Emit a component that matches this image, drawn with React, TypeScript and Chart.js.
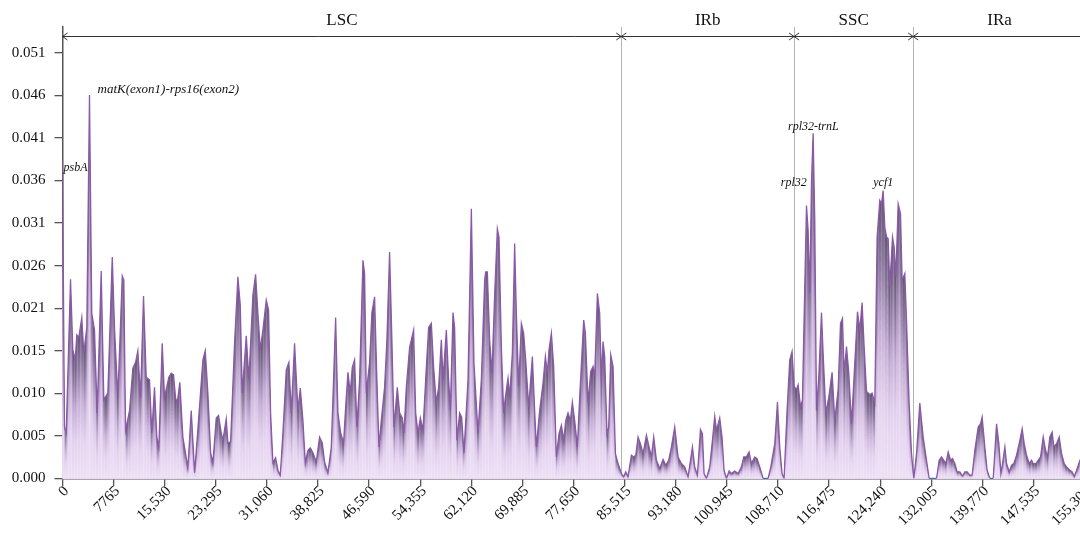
import React, { useEffect, useRef } from 'react';
import { Chart, registerables } from 'chart.js';

Chart.register(...registerables);

// ---------- data ----------
const POSITIONS = [
  0, 300, 560, 1220, 1570, 1930, 2170, 2480, 2930, 3240, 3690, 4100, 4450, 4860, 5270, 5880, 6280, 6890, 7560, 7900,
  8410, 9080, 9320, 9580, 10190, 10690, 11100, 11450, 11860, 12310, 12720, 13220, 13570, 13980, 14330, 14640, 15150, 15500, 16160, 16520,
  16870, 17180, 17430, 17830, 18290, 19050, 19560, 20070, 20670, 21330, 21690, 22090, 22500, 22850, 23360, 23710, 24120, 24370, 24880, 25130,
  25540, 26140, 26650, 27010, 27310, 27920, 28320, 28930, 29340, 29690, 30050, 30450, 30960, 31310, 31620, 31970, 32380, 32730, 33090, 33490,
  34000, 34400, 34760, 35260, 35770, 36130, 36530, 36890, 37290, 37650, 38050, 38560, 39060, 39470, 39820, 40330, 40840, 41500, 41850, 42260,
  42710, 43020, 43370, 43730, 44030, 44380, 44730, 45140, 45650, 45900, 46160, 46660, 47010, 47420, 47770, 48080, 48440, 48940, 49290, 49700,
  50050, 50360, 50870, 51220, 51630, 51880, 52240, 52740, 53350, 53660, 54010, 54370, 54770, 55280, 55630, 56040, 56390, 56800, 57150, 57560,
  57810, 58320, 58670, 58930, 59330, 59580, 59930, 60340, 60650, 61000, 61610, 62120, 62520, 63130, 63640, 64140, 64300, 64550, 64900, 65250,
  65660, 66070, 66320, 66680, 67030, 67290, 67690, 67940, 68350, 68700, 68960, 69310, 69720, 70070, 70380, 70830, 71390, 71740, 72000, 72500,
  73010, 73370, 73670, 73920, 74280, 74630, 75040, 75440, 75800, 76150, 76460, 76810, 77170, 77470, 77820, 78230, 78580, 79190, 79450, 79850,
  80260, 80610, 80860, 81270, 81620, 81880, 82130, 82380, 82730, 82990, 83300, 83650, 84010, 84410, 84920, 85270, 85580, 85930, 86440, 86790,
  87100, 87450, 87810, 88210, 88720, 89120, 89480, 89830, 90240, 90740, 91250, 91660, 92110, 92520, 93020, 93530, 94040, 94540, 95050, 95710,
  96060, 96470, 96930, 97230, 97480, 97840, 98340, 98750, 99100, 99360, 99860, 100210, 100520, 100880, 101280, 101640, 102140, 102650, 103160, 103510,
  103920, 104320, 104680, 105180, 105530, 105940, 106450, 107210, 107620, 108220, 108630, 108980, 109330, 109640, 110090, 110500, 110850, 111160, 111520, 111770,
  112130, 112430, 112630, 113040, 113290, 113540, 113800, 114050, 114300, 114560, 114910, 115320, 115570, 115980, 116430, 116930, 117340, 117850, 118210, 118510,
  118760, 119120, 119470, 119880, 120380, 120790, 121140, 121490, 121800, 122160, 122410, 122660, 123010, 123420, 123770, 124180, 124440, 124690, 124940, 125200,
  125450, 125700, 126110, 126360, 126620, 126970, 127330, 127570, 127980, 128240, 128640, 129000, 129350, 129760, 130260, 130770, 131280, 131680, 132800, 133200,
  133560, 133910, 134220, 134570, 134930, 135230, 135580, 135930, 136340, 136750, 137100, 137450, 137860, 138210, 138620, 139130, 139490, 139730, 140140, 140490,
  140900, 141410, 141920, 142270, 142580, 142830, 143180, 143440, 143840, 144200, 144550, 144960, 145460, 145810, 146120, 146480, 146880, 147240, 147490, 147900,
  148250, 148610, 149010, 149370, 149670, 150020, 150370, 150630, 151040, 151440, 151800, 152200, 152560, 153060, 153410, 153720, 154080, 154580, 155200,
];

const PI_VALUES = [
  0.0385, 0.0062, 0.0055, 0.0240, 0.0155, 0.0143, 0.0173, 0.0170, 0.0194, 0.0151, 0.0182, 0.0462, 0.0199, 0.0179, 0.0079, 0.0250, 0.0095, 0.0103, 0.0267, 0.0182,
  0.0098, 0.0244, 0.0239, 0.0058, 0.0082, 0.0133, 0.0140, 0.0154, 0.0098, 0.0220, 0.0122, 0.0119, 0.0055, 0.0110, 0.0050, 0.0038, 0.0163, 0.0098, 0.0122, 0.0127,
  0.0125, 0.0097, 0.0091, 0.0116, 0.0050, 0.0013, 0.0082, 0.0007, 0.0070, 0.0143, 0.0154, 0.0103, 0.0031, 0.0019, 0.0073, 0.0076, 0.0055, 0.0046, 0.0072, 0.0043,
  0.0044, 0.0163, 0.0243, 0.0209, 0.0103, 0.0172, 0.0119, 0.0221, 0.0246, 0.0199, 0.0155, 0.0179, 0.0215, 0.0203, 0.0079, 0.0019, 0.0025, 0.0010, 0.0004, 0.0055,
  0.0131, 0.0140, 0.0079, 0.0163, 0.0082, 0.0109, 0.0070, 0.0019, 0.0034, 0.0037, 0.0031, 0.0020, 0.0050, 0.0043, 0.0020, 0.0007, 0.0038, 0.0194, 0.0079, 0.0055,
  0.0043, 0.0086, 0.0128, 0.0103, 0.0134, 0.0143, 0.0062, 0.0119, 0.0263, 0.0247, 0.0103, 0.0140, 0.0200, 0.0219, 0.0119, 0.0038, 0.0070, 0.0110, 0.0167, 0.0273,
  0.0167, 0.0062, 0.0110, 0.0079, 0.0073, 0.0055, 0.0110, 0.0158, 0.0179, 0.0079, 0.0055, 0.0073, 0.0058, 0.0134, 0.0182, 0.0187, 0.0134, 0.0091, 0.0110, 0.0167,
  0.0119, 0.0179, 0.0119, 0.0082, 0.0200, 0.0182, 0.0046, 0.0079, 0.0074, 0.0031, 0.0119, 0.0325, 0.0139, 0.0055, 0.0119, 0.0239, 0.0249, 0.0249, 0.0167, 0.0127,
  0.0221, 0.0301, 0.0291, 0.0159, 0.0079, 0.0098, 0.0121, 0.0098, 0.0151, 0.0283, 0.0199, 0.0111, 0.0187, 0.0175, 0.0143, 0.0086, 0.0147, 0.0082, 0.0038, 0.0082,
  0.0115, 0.0147, 0.0127, 0.0155, 0.0175, 0.0135, 0.0026, 0.0054, 0.0064, 0.0046, 0.0070, 0.0079, 0.0070, 0.0092, 0.0070, 0.0038, 0.0098, 0.0191, 0.0175, 0.0091,
  0.0129, 0.0135, 0.0123, 0.0223, 0.0199, 0.0119, 0.0165, 0.0147, 0.0054, 0.0062, 0.0149, 0.0135, 0.0030, 0.0018, 0.0006, 0.0002, 0.0008, 0.0002, 0.0028, 0.0026,
  0.0028, 0.0050, 0.0042, 0.0030, 0.0052, 0.0038, 0.0026, 0.0050, 0.0022, 0.0012, 0.0023, 0.0016, 0.0022, 0.0038, 0.0062, 0.0026, 0.0018, 0.0014, 0.0002, 0.0038,
  0.0014, 0.0004, 0.0059, 0.0054, 0.0006, 0.0000, 0.0014, 0.0046, 0.0075, 0.0058, 0.0073, 0.0050, 0.0010, 0.0000, 0.0009, 0.0006, 0.0009, 0.0006, 0.0014, 0.0026,
  0.0026, 0.0032, 0.0018, 0.0026, 0.0024, 0.0014, 0.0000, 0.0000, 0.0014, 0.0042, 0.0092, 0.0038, 0.0006, 0.0000, 0.0082, 0.0143, 0.0153, 0.0111, 0.0107, 0.0113,
  0.0086, 0.0095, 0.0175, 0.0329, 0.0299, 0.0223, 0.0357, 0.0416, 0.0311, 0.0082, 0.0123, 0.0200, 0.0151, 0.0079, 0.0098, 0.0128, 0.0070, 0.0107, 0.0187, 0.0193,
  0.0127, 0.0159, 0.0127, 0.0066, 0.0139, 0.0201, 0.0179, 0.0212, 0.0159, 0.0105, 0.0103, 0.0101, 0.0103, 0.0091, 0.0291, 0.0335, 0.0331, 0.0347, 0.0303, 0.0291,
  0.0289, 0.0231, 0.0291, 0.0279, 0.0243, 0.0331, 0.0319, 0.0239, 0.0247, 0.0191, 0.0091, 0.0030, 0.0000, 0.0030, 0.0091, 0.0050, 0.0022, 0.0000, 0.0000, 0.0022,
  0.0026, 0.0022, 0.0018, 0.0032, 0.0022, 0.0024, 0.0018, 0.0008, 0.0008, 0.0003, 0.0008, 0.0008, 0.0004, 0.0004, 0.0034, 0.0062, 0.0066, 0.0074, 0.0038, 0.0010,
  0.0000, 0.0000, 0.0066, 0.0042, 0.0006, 0.0018, 0.0038, 0.0018, 0.0008, 0.0016, 0.0018, 0.0028, 0.0046, 0.0060, 0.0042, 0.0028, 0.0018, 0.0022, 0.0018, 0.0018,
  0.0022, 0.0026, 0.0050, 0.0034, 0.0026, 0.0050, 0.0056, 0.0038, 0.0042, 0.0050, 0.0030, 0.0018, 0.0014, 0.0010, 0.0008, 0.0002, 0.0010, 0.0022, 0.0018,
];

const X_TICKS = [
  0, 7765, 15530, 23295, 31060, 38825, 46590, 54355, 62120, 69885, 77650,
  85415, 93180, 100945, 108710, 116475, 124240, 132005, 139770, 147535, 155300,
];
const X_TICK_LABELS = [
  '0', '7765', '15,530', '23,295', '31,060', '38,825', '46,590', '54,355', '62,120', '69,885', '77,650',
  '85,515', '93,180', '100,945', '108,710', '116,475', '124,240', '132,005', '139,770', '147,535', '155,300',
];
const Y_TICK_LABELS = ['0.000', '0.005', '0.010', '0.015', '0.021', '0.026', '0.031', '0.036', '0.041', '0.046', '0.051'];
const Y_TICK_STEP = 0.00513;
const Y_MAX = 0.0544;
const GENOME_LENGTH = 155510;

const REGION_NAMES = ['LSC', 'IRb', 'SSC', 'IRa'];
const REGION_BOUNDS = [0, 84900, 111160, 129250, 155510];

const GENE_NAMES = ['psbA', 'matK(exon1)-rps16(exon2)', 'rpl32-trnL', 'rpl32', 'ycf1'];
const GENE_POSITIONS = [0, 5170, 114080, 111110, 124700];
const GENE_PI = [0.0374, 0.0468, 0.0424, 0.0356, 0.0356];
const GENE_ALIGN: CanvasTextAlign[] = ['left', 'left', 'center', 'center', 'center'];

// ---------- style ----------
const SERIF = '"Liberation Serif", "Times New Roman", serif';
const LINE_COLOR = '#8a5aa8';
const AXIS_COLOR = '#555555';
const RAMP: [number, number, number, number][] = [
  [0.0, 238, 226, 246],
  [0.3, 228, 210, 239],
  [0.55, 198, 176, 215],
  [0.8, 140, 120, 158],
  [1.0, 104, 88, 120],
];
const LAYERS = 28;

function rampColor(k: number): string {
  for (let i = 1; i < RAMP.length; i++) {
    if (k <= RAMP[i][0]) {
      const a = RAMP[i - 1];
      const b = RAMP[i];
      const t = (k - a[0]) / (b[0] - a[0]);
      const r = Math.round(a[1] + (b[1] - a[1]) * t);
      const g = Math.round(a[2] + (b[2] - a[2]) * t);
      const bl = Math.round(a[3] + (b[3] - a[3]) * t);
      return `rgb(${r},${g},${bl})`;
    }
  }
  const l = RAMP[RAMP.length - 1];
  return `rgb(${l[1]},${l[2]},${l[3]})`;
}

const regionPlugin = {
  id: 'regions',
  beforeDatasetsDraw(chart: any) {
    const { ctx, chartArea, scales } = chart;
    const xs = scales.x;
    const top = chartArea.top;
    const bottom = chartArea.bottom;
    const arrowY = top + 9;
    ctx.save();
    ctx.strokeStyle = '#b4b4b4';
    ctx.lineWidth = 1;
    for (let i = 1; i < REGION_BOUNDS.length - 1; i++) {
      const x = Math.round(xs.getPixelForValue(REGION_BOUNDS[i])) + 0.5;
      ctx.beginPath();
      ctx.moveTo(x, top);
      ctx.lineTo(x, bottom);
      ctx.stroke();
    }
    ctx.strokeStyle = '#333333';
    ctx.lineWidth = 1;
    ctx.beginPath();
    ctx.moveTo(chartArea.left, arrowY + 0.5);
    ctx.lineTo(chartArea.right, arrowY + 0.5);
    ctx.stroke();
    const head = (x: number, dir: number) => {
      ctx.beginPath();
      ctx.moveTo(x + dir * 5, arrowY - 3);
      ctx.lineTo(x, arrowY + 0.5);
      ctx.lineTo(x + dir * 5, arrowY + 4);
      ctx.stroke();
    };
    for (let i = 0; i < REGION_BOUNDS.length; i++) {
      const x = xs.getPixelForValue(REGION_BOUNDS[i]);
      if (i > 0) head(x, -1);
      if (i < REGION_BOUNDS.length - 1) head(x, 1);
    }
    ctx.fillStyle = '#111111';
    ctx.font = `17px ${SERIF}`;
    ctx.textAlign = 'center';
    ctx.textBaseline = 'middle';
    for (let i = 0; i < REGION_NAMES.length; i++) {
      const mid = (REGION_BOUNDS[i] + REGION_BOUNDS[i + 1]) / 2;
      ctx.fillText(REGION_NAMES[i], xs.getPixelForValue(mid), top - 6);
    }
    ctx.restore();
  },
};

const gradientFillPlugin = {
  id: 'gradientFill',
  beforeDatasetsDraw(chart: any) {
    const meta = chart.getDatasetMeta(0);
    const pts = meta.data as any[];
    if (!pts || !pts.length) return;
    const { ctx, chartArea, scales } = chart;
    const base = scales.y.getPixelForValue(0);
    ctx.save();
    ctx.beginPath();
    ctx.rect(chartArea.left, chartArea.top, chartArea.width, chartArea.height);
    ctx.clip();
    for (let j = 0; j < LAYERS; j++) {
      const k = 1 - j / LAYERS;
      ctx.beginPath();
      ctx.moveTo(pts[0].x, base);
      for (const p of pts) ctx.lineTo(p.x, base + (p.y - base) * k);
      ctx.lineTo(pts[pts.length - 1].x, base);
      ctx.closePath();
      ctx.fillStyle = rampColor(k);
      ctx.fill();
    }
    ctx.beginPath();
    ctx.moveTo(pts[0].x, base);
    for (const p of pts) ctx.lineTo(p.x, p.y);
    ctx.lineTo(pts[pts.length - 1].x, base);
    ctx.closePath();
    ctx.clip();
    ctx.strokeStyle = 'rgba(255,255,255,0.16)';
    ctx.lineWidth = 1;
    for (let x = Math.floor(chartArea.left) + 0.5; x < chartArea.right; x += 3) {
      ctx.beginPath();
      ctx.moveTo(x, chartArea.top);
      ctx.lineTo(x, base);
      ctx.stroke();
    }
    ctx.restore();
  },
  afterDatasetsDraw(chart: any) {
    const { ctx, scales } = chart;
    ctx.save();
    ctx.fillStyle = '#111111';
    ctx.textBaseline = 'middle';
    for (let i = 0; i < GENE_NAMES.length; i++) {
      ctx.font = `italic ${i === 1 ? 13 : 12}px ${SERIF}`;
      ctx.textAlign = GENE_ALIGN[i];
      const x = scales.x.getPixelForValue(GENE_POSITIONS[i]) + (GENE_ALIGN[i] === 'left' ? 1 : 0);
      ctx.fillText(GENE_NAMES[i], x, scales.y.getPixelForValue(GENE_PI[i]));
    }
    ctx.restore();
  },
};

export default function App() {
  const ref = useRef<HTMLCanvasElement>(null);

  useEffect(() => {
    const canvas = ref.current;
    if (!canvas) return;
    const data = POSITIONS.map((x, i) => ({ x, y: PI_VALUES[i] }));
    const chart = new Chart(canvas, {
      type: 'line',
      data: {
        datasets: [
          {
            data,
            borderColor: LINE_COLOR,
            borderWidth: 1.3,
            pointRadius: 0,
            fill: false,
            tension: 0,
            segment: {
              borderColor: (c: any) =>
                c.p0.parsed.y === 0 && c.p1.parsed.y === 0 ? '#3d8fe0' : undefined,
            },
          },
        ],
      },
      options: {
        animation: false,
        responsive: false,
        maintainAspectRatio: false,
        layout: { padding: { top: 27, right: 14, left: 0, bottom: 0 } },
        plugins: { legend: { display: false }, tooltip: { enabled: false } },
        scales: {
          x: {
            type: 'linear',
            min: 0,
            max: GENOME_LENGTH,
            offset: false,
            afterBuildTicks: (s: any) => {
              s.ticks = X_TICKS.map((v) => ({ value: v }));
            },
            afterFit: (s: any) => {
              s.height = 59.5;
            },
            ticks: {
              autoSkip: false,
              maxRotation: 45,
              minRotation: 45,
              padding: -4,
              labelOffset: 4,
              color: '#111111',
              font: { family: SERIF, size: 15 },
              callback: (_v: any, i: number) => X_TICK_LABELS[i],
            },
            grid: { drawOnChartArea: false, drawTicks: true, tickLength: 8, color: AXIS_COLOR, lineWidth: 1.3 },
            border: { display: true, color: AXIS_COLOR, width: 1.5 },
          },
          y: {
            type: 'linear',
            min: 0,
            max: Y_MAX,
            afterBuildTicks: (s: any) => {
              s.ticks = Y_TICK_LABELS.map((_l, i) => ({ value: i * Y_TICK_STEP }));
            },
            afterFit: (s: any) => {
              s.width = 62.5;
            },
            ticks: {
              padding: 9,
              color: '#111111',
              font: { family: SERIF, size: 15 },
              callback: (_v: any, i: number) => Y_TICK_LABELS[i],
            },
            grid: { drawOnChartArea: false, drawTicks: true, tickLength: 8, color: AXIS_COLOR, lineWidth: 1.3 },
            border: { display: true, color: AXIS_COLOR, width: 1.5 },
          },
        },
      },
      plugins: [regionPlugin, gradientFillPlugin],
    } as any);
    return () => chart.destroy();
  }, []);

  return (
    <div
      style={{
        position: 'fixed',
        left: 0,
        top: 0,
        width: 1080,
        height: 538,
        overflow: 'hidden',
        background: '#ffffff',
      }}
    >
      <canvas ref={ref} width={1100} height={538} style={{ display: 'block', width: 1100, height: 538 }} />
    </div>
  );
}
